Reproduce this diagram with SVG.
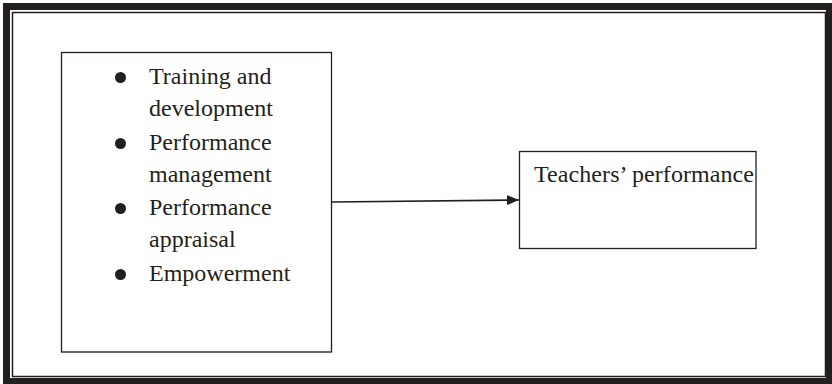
<svg xmlns="http://www.w3.org/2000/svg" width="832" height="384" viewBox="0 0 832 384">
<style>
.t{font-family:"Liberation Serif","Times New Roman",serif;font-size:24px;fill:#231f20}
.box{fill:#fff;stroke:#231f20;stroke-width:1.3}
</style>
<defs>
<marker id="ah" markerWidth="12" markerHeight="10" refX="12" refY="5" orient="auto" markerUnits="userSpaceOnUse">
<path d="M0,0 L12,5 L0,10 Z" fill="#231f20"/>
</marker>
</defs>
<rect width="832" height="384" fill="#fff"/>
<g id="frame">
<rect x="6.5" y="6.5" width="823" height="375" fill="none" stroke="#231f20" stroke-width="7"/>
<rect x="12.5" y="12.5" width="813" height="364" fill="none" stroke="#231f20" stroke-width="1.5"/>
</g>
<g id="factors">
<rect class="box" x="61.5" y="52.5" width="270" height="299.5"/>
<circle cx="120.5" cy="77.5" r="5.5" fill="#231f20"/>
<circle cx="120.5" cy="143.5" r="5.5" fill="#231f20"/>
<circle cx="120.5" cy="208.5" r="5.5" fill="#231f20"/>
<circle cx="120.5" cy="274.5" r="5.5" fill="#231f20"/>
<text class="t" x="149" y="84">Training and</text>
<text class="t" x="149" y="116">development</text>
<text class="t" x="149" y="150">Performance</text>
<text class="t" x="149" y="182">management</text>
<text class="t" x="149" y="215">Performance</text>
<text class="t" x="149" y="247">appraisal</text>
<text class="t" x="149" y="281">Empowerment</text>
</g>
<g id="outcome">
<rect class="box" x="519.5" y="151.5" width="236.5" height="97"/>
<text class="t" x="534" y="182" textLength="220">Teachers’ performance</text>
</g>
<g id="connectors">
<line x1="332" y1="202" x2="519" y2="200" stroke="#231f20" stroke-width="1.6" marker-end="url(#ah)"/>
</g>
</svg>
